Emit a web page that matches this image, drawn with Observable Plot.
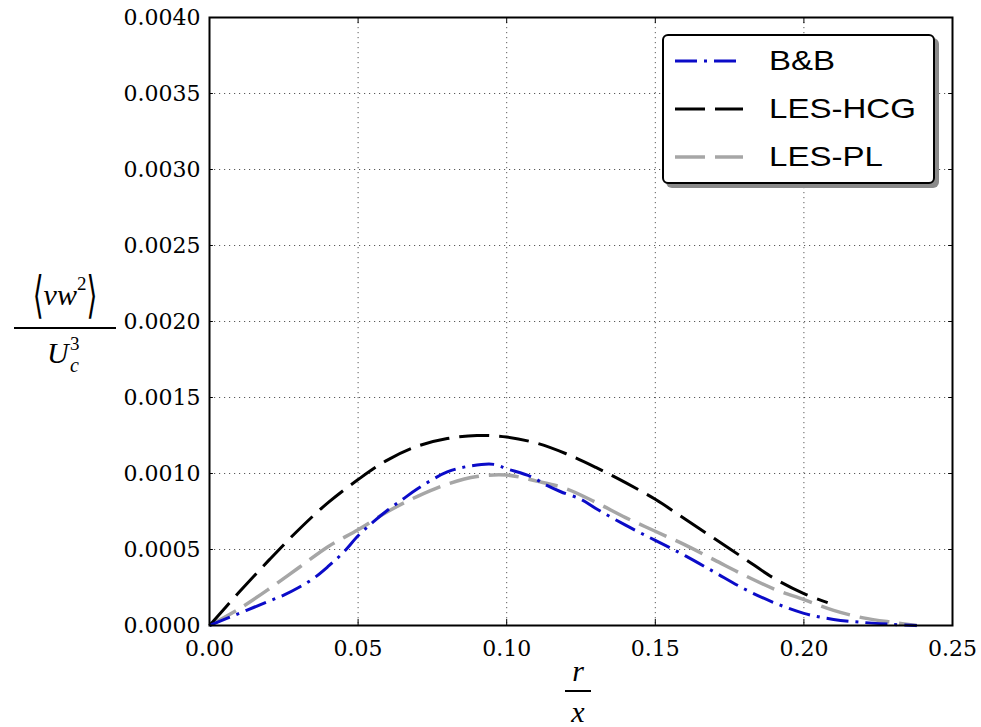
<!DOCTYPE html>
<html><head><meta charset="utf-8">
<script src="https://cdn.jsdelivr.net/npm/d3@7"></script>
<script src="https://cdn.jsdelivr.net/npm/@observablehq/plot@0.6"></script>
<style>
body{margin:0;background:#fff;}
#wrap{position:relative;width:981px;height:727px;overflow:hidden;background:#fff;}
.math{position:absolute;font-family:"Liberation Serif","DejaVu Serif",serif;font-style:italic;color:#000;text-align:center;line-height:1;}
.bar{position:absolute;background:#000;height:2px;}
#legend{position:absolute;left:662px;top:34px;width:269px;height:146px;border:2px solid #000;border-radius:6px;background:#fff;box-shadow:4px 4px 0 #8a8a8a;}
.row{position:absolute;left:11px;height:40px;display:flex;align-items:center;}
.row svg{width:68px;height:10px;}
.row span{position:absolute;left:94px;font-family:"Liberation Sans",Arial,sans-serif;font-size:28px;white-space:nowrap;transform:scaleX(1.18);transform-origin:left center;}
</style></head><body><div id="wrap"></div>
<script>
const xTicks = [0, 0.05, 0.10, 0.15, 0.20, 0.25];
const yTicks = [0, 0.0005, 0.0010, 0.0015, 0.0020, 0.0025, 0.0030, 0.0035, 0.0040];
const seriesNames = ["B&B", "LES-HCG", "LES-PL"];
const seriesColors = ["#0b0bc8", "#000000", "#a6a6a6"];
const seriesDash = ["22,7,3,7", "30,10", "30,10"];

const bbX = [0, 0.005, 0.01, 0.015, 0.02, 0.025, 0.03, 0.035, 0.04, 0.045, 0.05, 0.055, 0.06, 0.065, 0.07, 0.08, 0.0879, 0.0957, 0.1002, 0.1081, 0.1137, 0.1182, 0.125, 0.13, 0.14, 0.15, 0.16, 0.17, 0.18, 0.19, 0.20, 0.21, 0.22, 0.23, 0.238];
const bbY = [0, 0.00004, 0.00008, 0.00012, 0.00016, 0.0002, 0.00025, 0.00031, 0.00039, 0.00048, 0.00059, 0.00068, 0.00076, 0.00083, 0.0009, 0.00101, 0.00105, 0.00106, 0.00103, 0.00098, 0.00092, 0.00088, 0.00083, 0.00077, 0.00066, 0.00056, 0.00046, 0.00035, 0.00024, 0.00015, 0.00008, 0.00004, 0.00002, 0.000007, 0];

const hcgX = [0, 0.01, 0.02, 0.03, 0.04, 0.05, 0.06, 0.07, 0.08, 0.09, 0.10, 0.11, 0.12, 0.13, 0.14, 0.15, 0.16, 0.17, 0.18, 0.19, 0.20, 0.208];
const hcgY = [0, 0.00022, 0.00043, 0.00063, 0.00081, 0.00096, 0.00109, 0.00118, 0.00123, 0.00125, 0.00124, 0.00120, 0.00113, 0.00104, 0.00094, 0.00083, 0.00070, 0.00057, 0.00044, 0.00031, 0.00021, 0.00015];

const plX = [0, 0.01, 0.02, 0.03, 0.04, 0.05, 0.06, 0.07, 0.08, 0.09, 0.10, 0.11, 0.12, 0.13, 0.14, 0.15, 0.16, 0.17, 0.18, 0.19, 0.20, 0.21, 0.22, 0.23, 0.238];
const plY = [0, 0.00011, 0.00024, 0.00038, 0.00052, 0.00063, 0.00075, 0.00085, 0.00093, 0.00098, 0.00099, 0.00095, 0.00090, 0.00081, 0.00071, 0.00062, 0.00053, 0.00043, 0.00033, 0.00024, 0.00017, 0.00010, 0.00005, 0.00002, 0];

const seriesData = [[bbX, bbY], [hcgX, hcgY], [plX, plY]].map(([xs, ys]) => xs.map((x, i) => ({x, y: ys[i]})));

const lineMarks = [2, 1, 0].map(i => Plot.line(seriesData[i], {
  x: "x", y: "y", stroke: seriesColors[i], strokeWidth: i === 2 ? 3.5 : 3,
  strokeDasharray: seriesDash[i], curve: "catmull-rom", strokeLinecap: "butt"
}));

const tickFont = "DejaVu Serif";
const chart = Plot.plot({
  width: 981, height: 727,
  marginLeft: 209, marginRight: 29, marginTop: 17, marginBottom: 102,
  style: {fontSize: "22px", color: "#000", background: "transparent", overflow: "visible"},
  x: {domain: [0, 0.25]},
  y: {domain: [0, 0.004]},
  marks: [
    Plot.gridX(xTicks, {stroke: "#000", strokeOpacity: 0.65, strokeWidth: 1, strokeDasharray: "1.2,3.8"}),
    Plot.gridY(yTicks, {stroke: "#000", strokeOpacity: 0.65, strokeWidth: 1, strokeDasharray: "1.2,3.8"}),
    Plot.ruleX(xTicks, {y1: 0, y2: 0.00004, stroke: "#000", strokeWidth: 1}),
    Plot.ruleX(xTicks, {y1: 0.004, y2: 0.00396, stroke: "#000", strokeWidth: 1}),
    Plot.ruleY(yTicks, {x1: 0, x2: 0.0013, stroke: "#000", strokeWidth: 1}),
    Plot.ruleY(yTicks, {x1: 0.25, x2: 0.2487, stroke: "#000", strokeWidth: 1}),
    Plot.axisX(xTicks, {tickSize: 0, tickPadding: 15, tickFormat: d3.format(".2f"), label: null, fontSize: 22, fontFamily: tickFont}),
    Plot.axisY(yTicks, {tickSize: 0, tickPadding: 9, tickFormat: d3.format(".4f"), label: null, fontSize: 22, fontFamily: tickFont}),
    ...lineMarks,
    Plot.frame({stroke: "#000", strokeWidth: 2})
  ]
});
const wrap = document.getElementById("wrap");
wrap.appendChild(chart);

// Y label: <vw^2> / U_c^3
const yl = document.createElement("div");
yl.innerHTML = `
<div class="math" style="left:14px;top:278px;width:102px;font-size:30px;">
  <span style="font-style:normal;display:inline-block;transform:scaleY(1.8);font-size:28px;font-family:'DejaVu Serif',serif;">⟨</span><span>vw</span><sup style="font-style:normal;font-size:19px;position:relative;top:-4px;">2</sup><span style="font-style:normal;display:inline-block;transform:scaleY(1.8);font-size:28px;font-family:'DejaVu Serif',serif;">⟩</span>
</div>
<div class="bar" style="left:14px;top:327px;width:102px;"></div>
<div class="math" style="left:14px;top:338px;width:102px;height:40px;font-size:30px;">
  <div style="position:relative;width:40px;height:40px;margin:0 auto;">
    <span style="position:absolute;left:2px;top:0px;">U</span>
    <span style="position:absolute;left:25px;top:-4px;font-style:normal;font-size:19px;">3</span>
    <span style="position:absolute;left:25px;top:17px;font-size:20px;">c</span>
  </div>
</div>`;
wrap.appendChild(yl);

// X label: r / x
const xl = document.createElement("div");
xl.innerHTML = `
<div class="math" style="left:558px;top:656px;width:40px;font-size:30px;">r</div>
<div class="bar" style="left:565px;top:690px;width:26px;"></div>
<div class="math" style="left:558px;top:697px;width:40px;font-size:30px;">x</div>`;
wrap.appendChild(xl);

// Legend
const lg = document.createElement("div");
lg.id = "legend";
seriesNames.forEach((name, i) => {
  const row = document.createElement("div");
  row.className = "row";
  row.style.top = (5 + i * 48) + "px";
  row.innerHTML = `<svg viewBox="0 0 68 10"><line x1="0" y1="5" x2="68" y2="5" stroke="${seriesColors[i]}" stroke-width="${i===2?3.5:3}" stroke-dasharray="${seriesDash[i]}"/></svg><span>${name.replace("&","&amp;")}</span>`;
  lg.appendChild(row);
});
wrap.appendChild(lg);
</script>
</body></html>
